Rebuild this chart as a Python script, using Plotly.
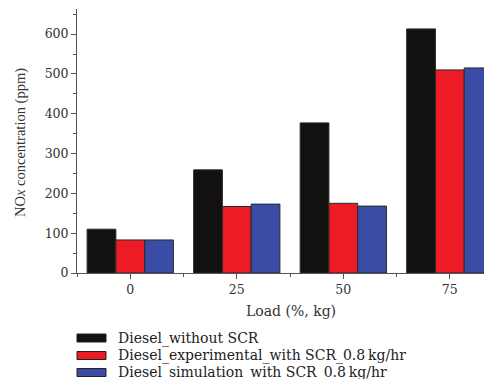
import plotly.graph_objects as go

loads = [0, 25, 50, 75]
series_names = [
    "Diesel_without SCR",
    "Diesel_experimental_with SCR_0.8\u2009kg/hr",
    "Diesel_simulation_with SCR_0.8\u2009kg/hr",
]
without_scr = [110, 259, 377, 613]
experimental_scr = [83, 167, 175, 510]
simulation_scr = [83, 173, 168, 515]
colors = ["#121110", "#ED1C24", "#3A4CA6"]
y_ticks = [0, 100, 200, 300, 400, 500, 600]

FONT = "DejaVu Serif"
O = 8  # page body margin offset
W, H = 492 - O, 379 - O
L, T = 77 - O, 9 - O
R, B = 0, 379 - 273
PW, PH = W - L - R, H - T - B

def px(x):
    return (x - O - L) / PW

def py(y):
    return (T + PH - (y - O)) / PH

fig = go.Figure()
for name, vals, col in zip(series_names, [without_scr, experimental_scr, simulation_scr], colors):
    fig.add_trace(go.Bar(
        x=loads, y=vals, name=name,
        marker=dict(color=col, line=dict(color="#2a2a2a", width=1)),
        showlegend=False,
    ))

fig.update_layout(
    width=W, height=H,
    margin=dict(l=L, r=R, t=T, b=B),
    paper_bgcolor="white", plot_bgcolor="white",
    barmode="group", bargap=0.19, bargroupgap=0,
    font=dict(family=FONT, size=12, color="#333"),
    showlegend=False,
)
fig.update_xaxes(
    range=[-12.5, 84.9], tickvals=loads, ticktext=[str(v) for v in loads],
    showline=True, linecolor="#555", linewidth=1,
    ticks="outside", ticklen=5, tickcolor="#555", showgrid=False, zeroline=False,
    minor=dict(tickvals=[-12.5, 12.5, 37.5, 62.5], ticks="outside", ticklen=3, tickcolor="#555"),
    tickfont=dict(family=FONT, size=12.5, color="#333"),
)
fig.update_yaxes(
    range=[0, 663], tickvals=y_ticks,
    showline=True, linecolor="#555", linewidth=1,
    ticks="outside", ticklen=5, tickcolor="#555", showgrid=False, zeroline=False,
    minor=dict(dtick=50, ticks="outside", ticklen=3, tickcolor="#555"),
    tickfont=dict(family=FONT, size=12.5, color="#333"),
)

# axis titles
fig.add_annotation(text="NO<i>x</i> concentration (ppm)", xref="paper", yref="paper",
                   x=px(20), y=py(143), textangle=-90, showarrow=False,
                   xanchor="center", yanchor="middle",
                   font=dict(family="Liberation Serif", size=14.5, color="#333"))
fig.add_annotation(text="Load (%, kg)", xref="paper", yref="paper",
                   x=px(291), y=py(311), showarrow=False,
                   xanchor="center", yanchor="middle",
                   font=dict(family=FONT, size=14, color="#333"))

# legend
row_y = [338, 355.5, 372.5]
for name, col, yc in zip(series_names, colors, row_y):
    fig.add_shape(type="rect", xref="paper", yref="paper",
                  x0=px(77), x1=px(106), y0=py(yc + 4), y1=py(yc - 4),
                  fillcolor=col, line=dict(color="#222", width=1))
    fig.add_annotation(text=name, xref="paper", yref="paper",
                       x=px(116), y=py(yc), showarrow=False,
                       xanchor="left", yanchor="middle",
                       font=dict(family=FONT, size=14, color="#222"))

fig.write_html("out.html")
